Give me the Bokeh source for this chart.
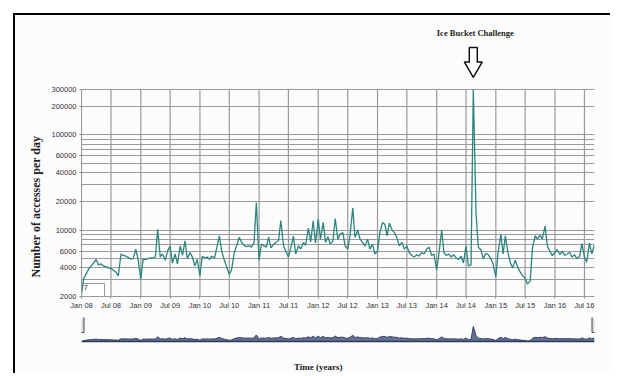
import math
import pandas as pd
from bokeh.plotting import figure
from bokeh.models import FixedTicker, Range1d, Title, PrintfTickFormatter, Label, Span
from bokeh.layouts import column
from bokeh.embed import file_html
from bokeh.resources import INLINE

# ---------------- data (semi-monthly samples of the 7-day rolled daily accesses) ----------------
v2008 = [2100, 3100, 3500, 3900, 4200, 4500, 4900, 4300, 4400, 4200, 4100, 4000,
         3950, 3800, 3600, 3300, 5600, 5400, 5300, 5150, 4950, 5000, 6300, 4950]
v2009 = [3050, 4950, 4900, 5000, 5100, 5050, 5200, 10200, 5200, 5600, 4800, 6000,
         6800, 4500, 5600, 4400, 6800, 5400, 7700, 5000, 5800, 5200, 4200, 4900]
v2010 = [3300, 5300, 5100, 5200, 4900, 5300, 5100, 6500, 8700, 6000, 4800, 4100,
         3400, 3800, 5800, 6800, 8400, 7400, 6900, 6700, 6800, 6600, 7400, 19500]
v2011 = [4800, 7100, 6800, 6600, 8400, 6500, 7100, 7400, 7700, 12600, 6800, 6000,
         5200, 6400, 8600, 5600, 6800, 6300, 7400, 6900, 10500, 7500, 12500, 7300]
v2012 = [13000, 8000, 12000, 7400, 8500, 7100, 7700, 13200, 8000, 9000, 9400, 6800,
         6300, 8700, 17000, 8400, 10000, 8000, 7400, 6800, 8000, 6300, 7100, 5600]
v2013 = [6000, 9400, 12000, 11500, 8700, 11800, 10000, 9400, 8300, 6800, 7400, 6300,
         6800, 5800, 5400, 5200, 5500, 5300, 5800, 5600, 6300, 6600, 5400, 5600]
v2014 = [3800, 5700, 10000, 5800, 5400, 5600, 5200, 5500, 5100, 4900, 5300, 4500,
         6800, 4200, 4300, 300000, 15000, 6600, 6200, 5000, 5700, 5500, 5000, 4400]
v2015 = [3200, 5800, 9000, 5600, 8700, 6000, 4500, 4000, 4800, 4100, 3600, 3300,
         3100, 2700, 2900, 6500, 8700, 8000, 8800, 8000, 11000, 6800, 6000, 5400]
v2016 = [5800, 6200, 5500, 6000, 5400, 5600, 5800, 5200, 5500, 5000, 5300, 7200,
         5200, 4600, 7300, 5600, 7000]

accesses = v2008 + v2009 + v2010 + v2011 + v2012 + v2013 + v2014 + v2015 + v2016
dates = list(pd.date_range("2008-01-01", "2016-09-01", freq="SMS").to_pydatetime())

tick_dates = list(pd.date_range("2008-01-01", "2016-07-01", freq="6MS").to_pydatetime())
tick_labels = ["Jan 08", "Jul 08", "Jan 09", "Jul 09", "Jan 10", "Jul 10", "Jan 11", "Jul 11",
               "Jan 12", "Jul 12", "Jan 13", "Jul 13", "Jan 14", "Jul 14", "Jan 15", "Jul 15",
               "Jan 16", "Jul 16"]
y_major = [2000, 4000, 6000, 10000, 20000, 40000, 60000, 100000, 200000, 300000]
y_minor = [3000, 5000, 7000, 8000, 9000, 30000, 50000, 70000, 80000, 90000]
roll_period = "7"
annotation_text = "Ice Bucket Challenge"
y_title = "Number of accesses per day"
x_title = "Time (years)"

# ---------------- styles ----------------
BG = "#fcfcfc"
GRID = "#9a9a9a"
LINE = "#2b857e"
SERIF = "Liberation Serif"
SANS = "Liberation Sans"

tick_ms = [t.timestamp() * 1000 for t in tick_dates]

# main plot: the frame is extended 74px above the 300000 line to hold the annotation
ppd_main = 207 / math.log10(y_major[-1] / y_major[0])     # pixels per decade
def above_top(px):
    return y_major[-1] * 10 ** (px / ppd_main)

p = figure(width=610, height=313, x_axis_type="datetime", y_axis_type="log",
           x_range=Range1d(dates[0], dates[-1]), y_range=Range1d(y_major[0], above_top(74)),
           output_backend="svg", toolbar_location=None, title=None,
           min_border_left=81, min_border_right=16, min_border_top=15, min_border_bottom=17,
           background_fill_color=BG, border_fill_alpha=0)
p.outline_line_color = None

p.xaxis.ticker = FixedTicker(ticks=tick_ms, minor_ticks=[])
p.xaxis.major_label_overrides = {ms: lab for ms, lab in zip(tick_ms, tick_labels)}
p.yaxis.ticker = FixedTicker(ticks=y_major, minor_ticks=y_minor)
p.yaxis.formatter = PrintfTickFormatter(format="%d")
p.yaxis.bounds = (y_major[0], y_major[-1])

for ax in (p.xaxis[0], p.yaxis[0]):
    ax.axis_line_color = GRID
    ax.major_tick_line_color = "#888888"
    ax.major_tick_out = 2
    ax.major_tick_in = 0
    ax.minor_tick_line_color = None
    ax.major_label_text_font = SANS
    ax.major_label_text_font_size = "7.5px"
    ax.major_label_text_color = "#333333"
p.xaxis.major_label_standoff = 2
p.yaxis.major_label_standoff = 1

p.xgrid.visible = False
p.ygrid.grid_line_color = GRID
p.ygrid.grid_line_width = 1.2
p.ygrid.minor_grid_line_color = GRID
p.ygrid.minor_grid_line_width = 1.2
# vertical grid lines limited to the value range
n = len(tick_dates)
p.segment(x0=tick_dates, y0=[y_major[0]] * n, x1=tick_dates, y1=[y_major[-1]] * n,
          line_color=GRID, line_width=1.2)

# roll-period box (bottom-left corner)
p.rect(x=[dates[0]], y=[y_major[0]], width=46, height=26, width_units="screen",
       height_units="screen", fill_color="white", line_color="#9a9a9a", line_width=1)
p.text(x=[dates[0]], y=[y_major[0]], text=[roll_period], x_offset=2, y_offset=-12,
       text_baseline="top", text_align="left", text_font_size="8px", text_color="#333333")

p.line(dates, accesses, line_color=LINE, line_width=1.3)

# annotation of the peak: text + hollow down arrow
peak_i = max(range(len(accesses)), key=lambda i: accesses[i])
peak_x = dates[peak_i]
p.add_layout(Label(x=peak_x, y=above_top(57), text=annotation_text, x_offset=2,
                   text_align="center", text_baseline="middle",
                   text_font=SERIF, text_font_size="8.5px", text_font_style="bold",
                   text_color="#222222"))
p.rect(x=[peak_x], y=[above_top(34.5)], width=8, height=15, width_units="screen",
       height_units="screen", fill_color="white", line_color="#111111", line_width=1.5)
p.scatter(x=[peak_x], y=[above_top(22.4)], marker="inverted_triangle", size=18,
          fill_color="white", line_color="#111111", line_width=1.5)
p.rect(x=[peak_x], y=[above_top(27.6)], width=6.5, height=2.5, width_units="screen",
       height_units="screen", fill_color="white", line_color=None)

# y title
p.add_layout(Title(text=y_title, align="left", offset=19, standoff=11,
                   text_font=SERIF, text_font_size="12px", text_font_style="bold",
                   text_color="#222222"), "left")

# ---------------- range selector (overview) + x title ----------------
ov_lo, ov_hi = 2260, 5.7e6
ppd = 24 / math.log10(ov_hi / ov_lo)          # pixels per decade in the 24px overview strip
ov_start = ov_lo / 10 ** (32 / ppd)           # frame continues 32px below the strip for the title
p2 = figure(width=610, height=60, x_axis_type="datetime", y_axis_type="log",
            x_range=p.x_range, y_range=Range1d(ov_start, ov_hi),
            output_backend="svg", toolbar_location=None, title=None,
            min_border_left=81, min_border_right=16, min_border_top=4, min_border_bottom=0,
            background_fill_color=BG, border_fill_alpha=0)
p2.outline_line_color = None
p2.grid.visible = False
p2.xaxis.visible = False
p2.yaxis.visible = False

p2.varea(x=dates, y1=[ov_lo] * len(dates), y2=accesses, fill_color="#52608a", fill_alpha=0.9)
p2.line(dates, accesses, line_color="#34405e", line_width=1)
p2.add_layout(Span(location=ov_lo, dimension="width", line_color="#2e3a55", line_width=1.5))

handle_y = ov_lo * 10 ** (17 / ppd)
p2.rect(x=[dates[0], dates[-1]], y=[handle_y, handle_y], width=5, height=16,
        width_units="screen", height_units="screen", fill_color="#d9d9d9",
        line_color="#4a4a4a", line_width=1)

p2.add_layout(Label(x=tick_dates[8], y=ov_start * 10 ** (7 / ppd), text=x_title,
                    text_align="center", text_baseline="middle",
                    text_font=SERIF, text_font_size="9px", text_font_style="bold",
                    text_color="#222222"))

bg = ("linear-gradient(#000,#000) 13px 13px / 2px 100% no-repeat, "
      "linear-gradient(#000,#000) 13px 13px / 597px 2px no-repeat, "
      "linear-gradient(#fff,#fff) 0 0 / 13px 100% no-repeat, "
      "linear-gradient(#fff,#fff) 0 0 / 100% 13px no-repeat, " + BG)
layout = column(p, p2, styles={"background": bg})

open("out.html", "w").write(file_html(layout, INLINE))
